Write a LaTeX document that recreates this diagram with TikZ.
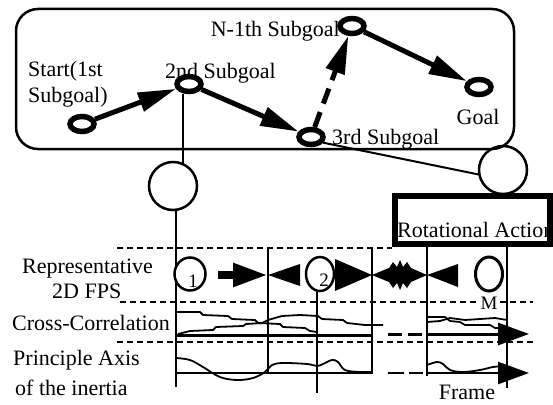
\documentclass[tikz,border=0pt]{standalone}
\usepackage{fontspec}
\setmainfont{Liberation Serif}
\usetikzlibrary{shapes.geometric,arrows.meta,calc}
\begin{document}
\begin{tikzpicture}[x=1pt,y=-1pt,
  txt/.style={font=\fontsize{22}{24}\selectfont, inner sep=0pt},
  numtxt/.style={font=\fontsize{19}{21}\selectfont, inner sep=0pt},
  sub/.style={ellipse, draw, line width=5.5pt, fill=white, minimum width=24pt, minimum height=15pt, inner sep=0pt},
  bigarrow/.style={line width=5pt, -{Triangle[length=38pt,width=19pt]}},
  thinline/.style={line width=2pt},
  ring/.style={circle, draw, line width=2.5pt, minimum size=48pt, inner sep=0pt},
  fpsnode/.style={ellipse, draw, line width=2.5pt, fill=white, inner sep=0pt},
  dashline/.style={line width=1.6pt, dash pattern=on 6pt off 4pt},
  baseline/.style={line width=3pt},
  endarrow/.style={line width=3pt, -{Triangle[length=31pt,width=22pt]}},
  wave/.style={line width=1.8pt, line join=round}
]
\useasboundingbox (0,0) rectangle (553,404);

% ---------- upper panel ----------
\draw[line width=2.5pt, rounded corners=22pt] (16,9) rectangle (514,149);

\node[txt, anchor=base west] (lstart) at (28,76) {Start(1st};
\node[txt, anchor=base west] (lstartb) at (28,102) {Subgoal)};
\node[txt, anchor=base west] (ltwo) at (165,78) {2nd Subgoal};
\node[txt, anchor=base east] (lN) at (340,37) {N-1th Subgoal};
\node[txt, anchor=base west] (lthree) at (332,144) {3rd Subgoal};
\node[txt, anchor=base] (lgoal) at (478,124) {Goal};

\node[sub] (start) at (82,124) {};
\node[sub] (s2) at (189,84) {};
\node[sub] (s3) at (311,137) {};
\node[sub] (sN) at (352,26) {};
\node[sub] (goal) at (479,87) {};

\draw[bigarrow] (start) -- (s2);
\draw[bigarrow] (s2) -- (s3);
\draw[bigarrow, dash pattern=on 16pt off 9pt] (s3) -- (sN);
\draw[bigarrow] (sN) -- (goal);

% ---------- connecting circles ----------
\node[ring] (lc) at (173,186) {};
\node[ring] (rc) at (503,170) {};
\draw[thinline] (s2.south -| lc.66) -- (lc.66);
\draw[thinline] (s3.-25) -- (rc.190);

% ---------- rotational action ----------
\node[txt, anchor=base west] (rottext) at (397,237) {Rotational Action};
\node[draw, line width=6pt, minimum width=155pt, minimum height=48pt, inner sep=0pt] (rot) at (472.5,220) {};

% ---------- dashed row separators ----------
\coordinate (d1a) at (117,248); \coordinate (d1b) at (392,248);
\coordinate (d2a) at (120,302); \coordinate (d2b) at (533,302);
\coordinate (d3a) at (117,342); \coordinate (d3b) at (533,342);
\draw[dashline] (d1a) -- (d1b);
\draw[dashline] (d2a) -- (d2b);
\draw[dashline] (d3a) -- (d3b);

% ---------- left labels ----------
\node[txt, anchor=base west] (lrep) at (22,273) {Representative};
\node[txt, anchor=base west] (lfps) at (52,298) {2D FPS};
\node[txt, anchor=base west] (lcc) at (12,330) {Cross-Correlation};
\node[txt, anchor=base west] (lpa) at (13,365) {Principle Axis};
\node[txt, anchor=base west] (lin) at (15,395) {of the inertia};
\node[txt, anchor=base] (lframe) at (467,399) {Frame};

% ---------- vertical lines ----------
\coordinate (v1b) at (176,387);
\draw[thinline] (lc.-83) -- (lc.-83 |- v1b);
\coordinate (v2t) at (268,248); \coordinate (v2b) at (268,373);
\draw[thinline] (v2t) -- (v2b);
\coordinate (v4t) at (372,248); \coordinate (v4b) at (372,374);
\draw[thinline] (v4t) -- (v4b);
\coordinate (v5b) at (427,376);
\draw[thinline] (rot.south -| v5b) -- (v5b);
\coordinate (v6b) at (507,388);
\draw[thinline] (rot.south -| v6b) -- (v6b);

% ---------- FPS row ----------
\node[fpsnode, minimum width=31pt, minimum height=33pt] (c1) at (190,274) {};
\node[numtxt] (n1) at (193,281) {1};
\node[fpsnode, minimum width=28pt, minimum height=34pt] (c2) at (320,274) {};
\node[numtxt] (n2) at (324,280) {2};
\node[fpsnode, line width=3pt, minimum width=27pt, minimum height=34pt] (cM) at (489,274) {};
\node[font=\fontsize{19}{21}\selectfont, inner sep=0.5pt, fill=white, anchor=base] (nM) at (489,309) {M};
\coordinate (v3b) at (317,393);
\draw[thinline] (c2.south -| v3b) -- (v3b);

\coordinate (a1s) at (218,275); \coordinate (a1e) at (268,275);
\draw[line width=8pt, -{Triangle[length=35pt,width=22pt]}] (a1s) -- (a1e);
\fill (268,275) -- (300,264) -- (300,286) -- cycle;
\fill (335,259) -- (372,275) -- (335,291) -- cycle;
\fill (372,275) -- (389,268) -- (393,262) -- (397,267) -- (400,260) -- (403,267) -- (407,262) -- (411,268)
  -- (427,275) -- (411,282) -- (407,288) -- (403,283) -- (400,290) -- (397,283) -- (393,288) -- (389,282) -- cycle;
\fill (427,275) -- (458,264) -- (458,287) -- cycle;

% ---------- cross-correlation row ----------
\draw[baseline] (176,335) -- (372,335);
\draw[baseline] (388,334) -- (402,334);
\draw[baseline] (408,334) -- (422,334);
\coordinate (ccs) at (427,334); \coordinate (cce) at (529,334);
\draw[endarrow] (ccs) -- (cce);
\draw[wave] (176,312) -- (200,312) -- (203,315) -- (228,316) -- (232,319) -- (255,320) -- (258,323) -- (280,324) -- (283,327) -- (305,328) -- (310,331) -- (317,332);
\draw[wave] (178,334) -- (190,331) -- (213,330) -- (216,327) -- (243,326) -- (246,324) -- (262,323) -- (268,320) -- (282,316) -- (300,315) -- (318,316) -- (322,319) -- (343,320) -- (347,323) -- (365,325) -- (383,325);
\draw[wave] (427,317) -- (445,317) -- (450,321) -- (460,322) -- (465,325) -- (490,325) -- (495,328) -- (507,328);
\draw[wave] (427,322) -- (440,321) -- (450,318) -- (465,320) -- (480,319) -- (495,318) -- (507,320);

% ---------- principal axis row ----------
\draw[baseline, line width=2.5pt] (176,373) -- (372,373);
\draw[baseline, line width=2.5pt] (388,373) -- (404,373);
\draw[baseline, line width=2.5pt] (409,373) -- (423,373);
\coordinate (pas) at (427,373); \coordinate (pae) at (529,373);
\draw[endarrow, line width=2.5pt] (pas) -- (pae);
\draw[wave] plot[smooth, tension=0.6] coordinates {(176,358) (190,360) (203,367) (220,377) (237,380) (253,378) (265,372) (272,365) (283,363) (307,364) (317,366) (323,364) (332,360) (338,362) (345,370) (360,372) (372,372)};
\draw[wave] plot[smooth, tension=0.6] coordinates {(427,365) (437,362) (443,364) (450,370) (463,372) (480,370) (493,367) (505,366)};

\end{tikzpicture}
\end{document}
